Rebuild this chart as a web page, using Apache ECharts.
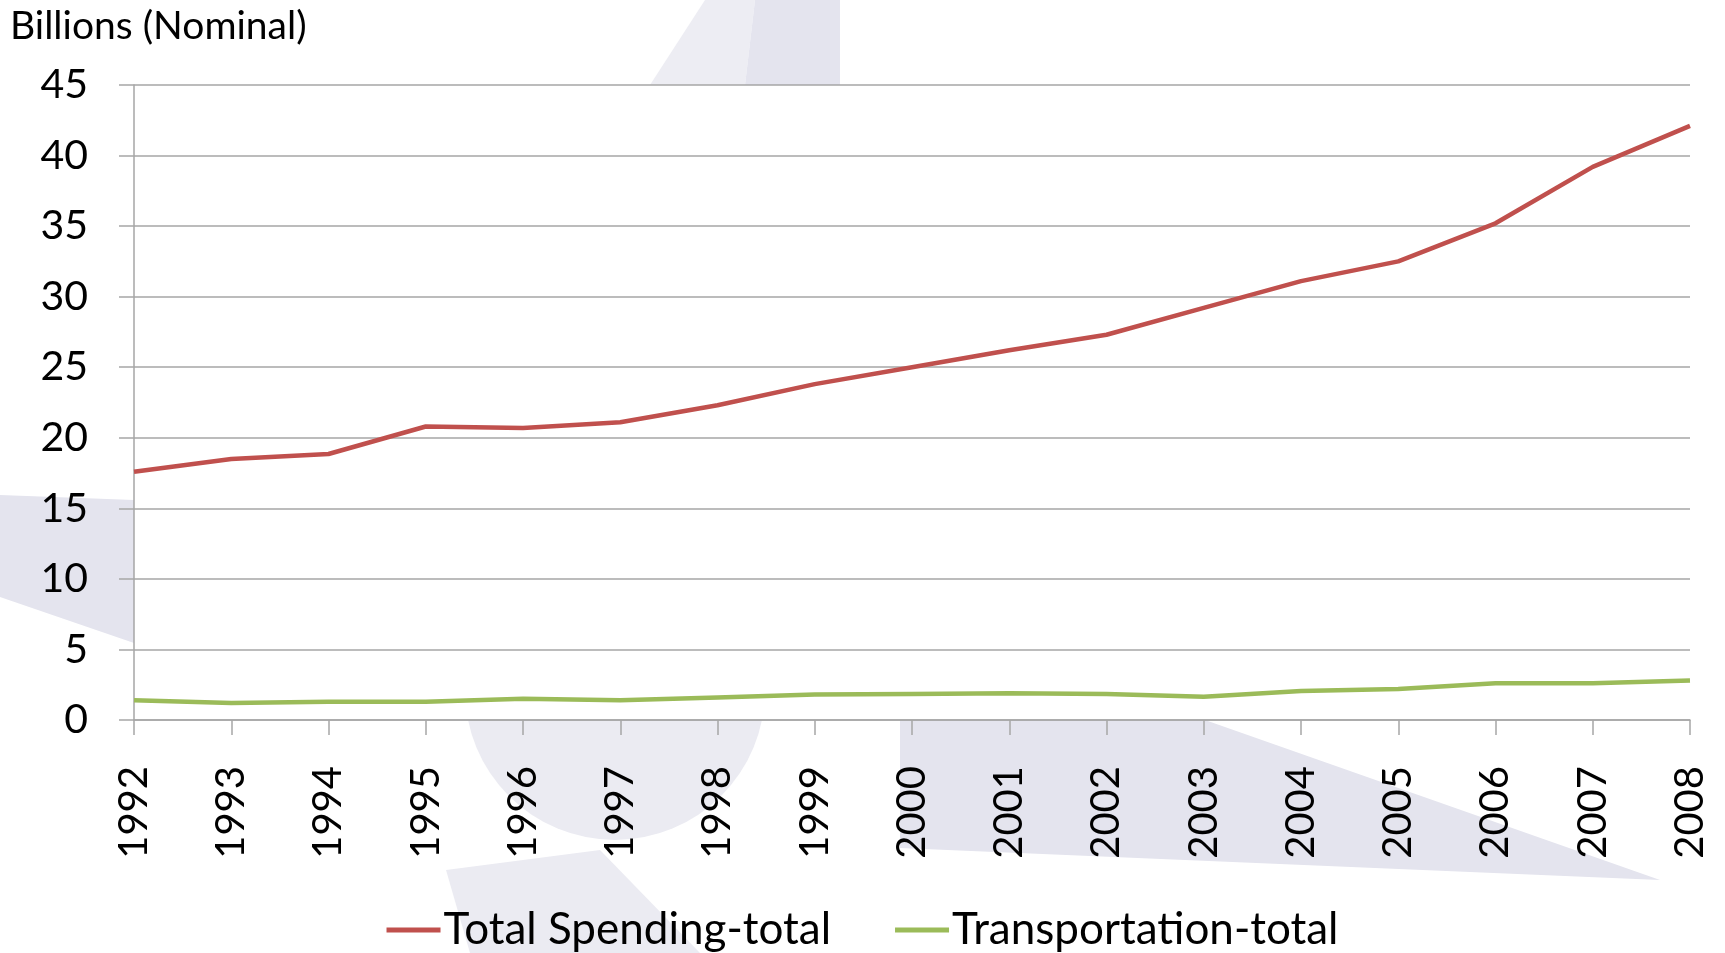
<!DOCTYPE html>
<html>
<head>
<meta charset="utf-8">
<script src="https://cdn.jsdelivr.net/npm/echarts@6/dist/echarts.min.js"></script>
<style>
  html, body { margin: 0; padding: 0; background: #fff; }
  #chart { width: 1725px; height: 953px; }
</style>
</head>
<body>
<div id="chart"></div>
<script>
// years on the x axis
var years = ['1992', '1993', '1994', '1995', '1996', '1997', '1998', '1999', '2000',
             '2001', '2002', '2003', '2004', '2005', '2006', '2007', '2008'];

// billions, nominal
var totalSpending = [17.6, 18.5, 18.85, 20.8, 20.7, 21.1, 22.3, 23.8, 25.0,
                     26.2, 27.3, 29.2, 31.1, 32.5, 35.2, 39.2, 42.1];
var transportation = [1.4, 1.2, 1.3, 1.3, 1.5, 1.4, 1.6, 1.8, 1.85,
                      1.9, 1.85, 1.65, 2.05, 2.2, 2.6, 2.6, 2.8];

var seriesNames = ['Total Spending-total', 'Transportation-total'];

function render_chart(divId) {
    var dom = document.getElementById(divId);
    var myChart = echarts.init(dom);
    var font = 'Lato, "Open Sans", sans-serif';
    var wm = '#e4e4ee';

    var option = {
        animation: false,
        backgroundColor: '#fff',
        textStyle: { fontFamily: font, color: '#000' },
        // faint watermark shapes behind the plot
        graphic: [
            { type: 'polygon', z: -5, shape: { points: [[0, 495], [134, 500], [134, 643], [0, 597]] }, style: { fill: wm } },
            { type: 'polygon', z: -5, shape: { points: [[650, 85], [705, 0], [755, 0], [745, 85]] }, style: { fill: '#ededf3' } },
            { type: 'polygon', z: -5, shape: { points: [[745, 85], [755, 0], [840, 0], [840, 85]] }, style: { fill: wm } },
            { type: 'polygon', z: -5, shape: { points: [[900, 720], [1205, 720], [1660, 880], [900, 848]] }, style: { fill: wm } },
            { type: 'circle', z: -5, shape: { cx: 615, cy: 690, r: 150 }, style: { fill: '#ebebf2' } },
            { type: 'polygon', z: -5, shape: { points: [[446, 870], [600, 850], [700, 953], [470, 953]] }, style: { fill: '#ebebf2' } },
            {
                type: 'text', left: 10, top: 7,
                style: { text: 'Billions (Nominal)', font: '39px ' + font, fill: '#000' }
            }
        ],
        grid: {
            left: 134, right: 35, top: 85, bottom: 233,
            show: true, backgroundColor: '#fff', borderWidth: 0
        },
        legend: {
            data: seriesNames,
            left: 'center',
            top: 903,
            icon: 'rect',
            itemWidth: 54,
            itemHeight: 5,
            itemGap: 64,
            textStyle: { fontSize: 44, fontFamily: font, color: '#000', padding: [0, 0, 0, -2] }
        },
        xAxis: {
            type: 'category',
            data: years,
            boundaryGap: false,
            axisLine: { lineStyle: { color: '#a6a6a6', width: 1.5 } },
            axisTick: { length: 15, lineStyle: { color: '#a6a6a6', width: 1.5 } },
            axisLabel: { rotate: 90, margin: 46, fontSize: 40, color: '#000', fontFamily: font, interval: 0 }
        },
        yAxis: {
            type: 'value',
            min: 0, max: 45, interval: 5,
            axisLine: { show: true, lineStyle: { color: '#a6a6a6', width: 1.5 } },
            axisTick: { show: true, length: 15, lineStyle: { color: '#a6a6a6', width: 1.5 } },
            axisLabel: { margin: 46, fontSize: 41, color: '#000', fontFamily: font },
            splitLine: { lineStyle: { color: '#a6a6a6', width: 1.5 } }
        },
        series: [
            {
                name: seriesNames[0],
                type: 'line',
                data: totalSpending,
                showSymbol: false,
                color: '#C0504D',
                lineStyle: { width: 4.5 }
            },
            {
                name: seriesNames[1],
                type: 'line',
                data: transportation,
                showSymbol: false,
                color: '#9BBB59',
                lineStyle: { width: 4.5 }
            }
        ]
    };
    myChart.setOption(option);
}

render_chart('chart');
</script>
</body>
</html>
